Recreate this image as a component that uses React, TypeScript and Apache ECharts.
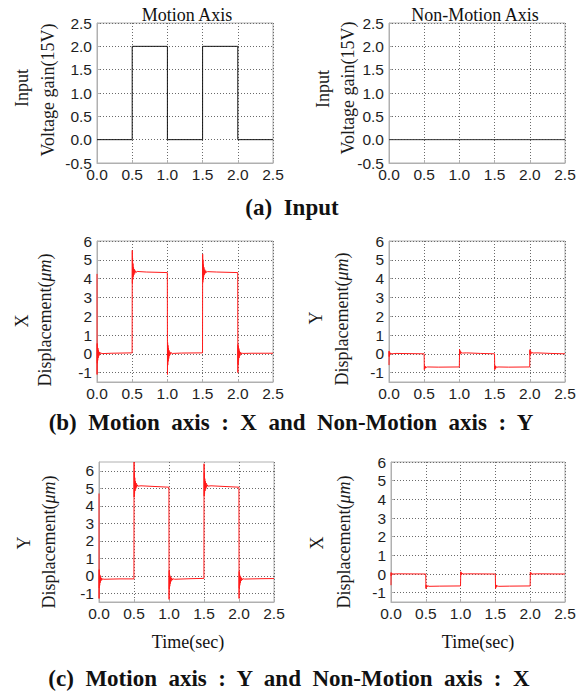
import React, { useEffect, useRef } from "react";
import * as echarts from "echarts";

// ---------- data ----------
const timeTicks = [0, 0.5, 1, 1.5, 2, 2.5];
const inputTicks = [-0.5, 0, 0.5, 1, 1.5, 2, 2.5];
const dispTicks = [-1, 0, 1, 2, 3, 4, 5, 6];

const inputMotion: [number, number][] = [
  [0, 0], [0.5, 0], [0.5, 2], [1.0, 2], [1.0, 0], [1.5, 0], [1.5, 2], [2.0, 2], [2.0, 0], [2.5, 0],
];
const inputNonMotion: [number, number][] = [[0, 0], [2.5, 0]];

// (b) motion axis X
const dispXMotionB: [number, number][] = [
  [0, 4.25], [0.001, -1.1], [0.003, 0.55], [0.005, -0.5], [0.007, 0.45], [0.01, -0.35], [0.013, 0.3], [0.017, -0.22], [0.021, 0.18], [0.026, -0.12], [0.032, 0.1], [0.04, -0.04], [0.05, 0.06], [0.07, 0.01], [0.2, 0.03], [0.499, 0.05],
  [0.5, 0.05], [0.501, 5.5], [0.503, 3.75], [0.505, 5.1], [0.508, 3.95], [0.511, 4.8], [0.515, 4.1], [0.519, 4.6], [0.524, 4.2], [0.53, 4.5], [0.537, 4.28], [0.545, 4.42], [0.555, 4.33], [0.57, 4.38], [0.7, 4.35], [0.999, 4.32],
  [1.0, 4.32], [1.001, -1.1], [1.003, 0.6], [1.005, -0.6], [1.008, 0.45], [1.011, -0.4], [1.015, 0.3], [1.019, -0.25], [1.024, 0.18], [1.03, -0.12], [1.037, 0.1], [1.045, -0.03], [1.055, 0.06], [1.07, 0.02], [1.2, 0.04], [1.499, 0.05],
  [1.5, 0.05], [1.501, 5.3], [1.503, 3.8], [1.505, 5.0], [1.508, 3.95], [1.511, 4.75], [1.515, 4.1], [1.519, 4.6], [1.524, 4.2], [1.53, 4.48], [1.537, 4.28], [1.545, 4.42], [1.555, 4.33], [1.57, 4.37], [1.7, 4.35], [1.999, 4.32],
  [2.0, 4.32], [2.001, -1.0], [2.003, 0.5], [2.005, -0.55], [2.008, 0.4], [2.011, -0.35], [2.015, 0.28], [2.019, -0.22], [2.024, 0.16], [2.03, -0.1], [2.037, 0.08], [2.045, -0.03], [2.055, 0.05], [2.07, 0.02], [2.2, 0.03], [2.5, 0.03],
];

// (b) non-motion axis Y
const dispYNonMotionB: [number, number][] = [
  [0, -0.6], [0.001, 0.15], [0.003, -0.15], [0.005, 0.1], [0.008, -0.08], [0.012, 0.06], [0.018, -0.03], [0.026, 0.04], [0.04, 0.0], [0.1, 0.02], [0.499, 0.0],
  [0.5, 0.0], [0.502, -0.85], [0.504, -0.62], [0.507, -0.8], [0.511, -0.66], [0.516, -0.76], [0.523, -0.68], [0.532, -0.73], [0.545, -0.7], [0.7, -0.71], [0.999, -0.7],
  [1.0, -0.7], [1.002, 0.25], [1.004, -0.05], [1.007, 0.18], [1.011, 0.0], [1.016, 0.12], [1.023, 0.02], [1.032, 0.08], [1.045, 0.04], [1.1, 0.05], [1.3, 0.02], [1.499, 0.0],
  [1.5, 0.0], [1.502, -0.85], [1.504, -0.62], [1.507, -0.8], [1.511, -0.66], [1.516, -0.76], [1.523, -0.68], [1.532, -0.73], [1.545, -0.7], [1.7, -0.71], [1.999, -0.7],
  [2.0, -0.7], [2.002, 0.22], [2.004, -0.05], [2.007, 0.16], [2.011, 0.0], [2.016, 0.11], [2.023, 0.02], [2.032, 0.07], [2.045, 0.04], [2.1, 0.05], [2.3, 0.02], [2.5, 0.0],
];

// (c) motion axis Y
const dispYMotionC: [number, number][] = [
  [0, 4.7], [0.001, -1.3], [0.003, 0.35], [0.005, -0.7], [0.007, 0.15], [0.01, -0.55], [0.013, 0.05], [0.017, -0.4], [0.021, -0.05], [0.026, -0.3], [0.032, -0.12], [0.04, -0.25], [0.05, -0.17], [0.07, -0.2], [0.3, -0.18], [0.499, -0.18],
  [0.5, -0.18], [0.501, 6.5], [0.503, 4.5], [0.505, 5.9], [0.508, 4.7], [0.511, 5.6], [0.515, 4.85], [0.519, 5.4], [0.524, 4.95], [0.53, 5.3], [0.537, 5.05], [0.545, 5.2], [0.555, 5.12], [0.6, 5.14], [0.8, 5.1], [0.999, 5.06],
  [1.0, 5.06], [1.001, -1.35], [1.003, 0.3], [1.005, -0.75], [1.008, 0.1], [1.011, -0.6], [1.015, 0.0], [1.019, -0.45], [1.024, -0.08], [1.03, -0.32], [1.037, -0.12], [1.045, -0.25], [1.055, -0.17], [1.08, -0.2], [1.3, -0.17], [1.499, -0.15],
  [1.5, -0.15], [1.501, 6.4], [1.503, 4.55], [1.505, 5.9], [1.508, 4.7], [1.511, 5.55], [1.515, 4.85], [1.519, 5.4], [1.524, 4.95], [1.53, 5.3], [1.537, 5.05], [1.545, 5.2], [1.555, 5.12], [1.6, 5.14], [1.8, 5.1], [1.999, 5.06],
  [2.0, 5.06], [2.001, -1.3], [2.003, 0.25], [2.005, -0.7], [2.008, 0.1], [2.011, -0.55], [2.015, 0.0], [2.019, -0.42], [2.024, -0.08], [2.03, -0.3], [2.037, -0.12], [2.045, -0.24], [2.055, -0.17], [2.08, -0.19], [2.3, -0.17], [2.5, -0.16],
];

// (c) non-motion axis X
const dispXNonMotionC: [number, number][] = [
  [0, -0.6], [0.001, 0.08], [0.003, -0.1], [0.006, 0.05], [0.01, -0.04], [0.016, 0.03], [0.025, 0.0], [0.1, 0.01], [0.499, 0.0],
  [0.5, 0.0], [0.502, -0.78], [0.505, -0.58], [0.509, -0.72], [0.514, -0.6], [0.521, -0.68], [0.53, -0.63], [0.545, -0.66], [0.7, -0.65], [0.999, -0.64],
  [1.0, -0.64], [1.002, 0.12], [1.005, -0.06], [1.009, 0.08], [1.014, -0.02], [1.021, 0.04], [1.035, 0.0], [1.1, 0.01], [1.499, 0.0],
  [1.5, 0.0], [1.502, -0.78], [1.505, -0.58], [1.509, -0.72], [1.514, -0.6], [1.521, -0.68], [1.53, -0.63], [1.545, -0.66], [1.7, -0.65], [1.999, -0.64],
  [2.0, -0.64], [2.002, 0.1], [2.005, -0.05], [2.009, 0.07], [2.014, -0.02], [2.021, 0.04], [2.035, 0.0], [2.1, 0.01], [2.5, 0.0],
];

const panelTitles = ["Motion Axis", "Non-Motion Axis"];
const captions = [
  "(a)  Input",
  "(b)  Motion  axis  :  X  and  Non-Motion  axis  :  Y",
  "(c)  Motion  axis  :  Y  and  Non-Motion  axis  :  X",
];

// ---------- styles ----------
const SANS = '"Liberation Sans", Arial, sans-serif';
const SERIF = '"Liberation Serif", "Times New Roman", serif';
const GRIDLINE = "#6a6a6a";
const BORDER = "#b0b0b0";
const RED = "#ff1a1a";
const BLACK = "#151515";

const grids = [
  { left: 97, top: 23, width: 176, height: 140 },
  { left: 389, top: 23, width: 176, height: 140 },
  { left: 97, top: 241, width: 176, height: 141 },
  { left: 389, top: 241, width: 176, height: 141 },
  { left: 99, top: 462, width: 175, height: 140 },
  { left: 391, top: 462, width: 174, height: 140 },
];

function xAxisCfg(gridIndex: number) {
  return {
    type: "value",
    gridIndex,
    min: 0,
    max: 2.5,
    interval: 0.5,
    axisLine: { show: true, onZero: false, lineStyle: { color: BORDER } },
    axisTick: { show: true, inside: true, length: 3, lineStyle: { color: BORDER } },
    axisLabel: {
      margin: 3,
      fontFamily: SANS,
      fontSize: 15.5,
      color: "#1e1e1e",
      customValues: timeTicks,
      formatter: (v: number) => v.toFixed(1),
    },
    splitLine: { show: true, lineStyle: { color: GRIDLINE, type: [1, 2], width: 1 } },
  };
}

function yAxisInput(gridIndex: number) {
  return {
    type: "value",
    gridIndex,
    min: -0.5,
    max: 2.5,
    interval: 0.5,
    axisLine: { show: true, onZero: false, lineStyle: { color: BORDER } },
    axisTick: { show: true, inside: true, length: 3, lineStyle: { color: BORDER } },
    axisLabel: {
      margin: 5,
      fontFamily: SANS,
      fontSize: 15.5,
      color: "#1e1e1e",
      customValues: inputTicks,
      formatter: (v: number) => v.toFixed(1),
    },
    splitLine: { show: true, lineStyle: { color: GRIDLINE, type: [1, 2], width: 1 } },
  };
}

function yAxisDisp(gridIndex: number, max: number) {
  return {
    type: "value",
    gridIndex,
    min: -1.5,
    max,
    minInterval: 1,
    maxInterval: 1,
    axisLine: { show: true, onZero: false, lineStyle: { color: BORDER } },
    axisTick: { show: true, inside: true, length: 3, customValues: dispTicks, lineStyle: { color: BORDER } },
    axisLabel: {
      margin: 5,
      fontFamily: SANS,
      fontSize: 15.5,
      color: "#1e1e1e",
      customValues: dispTicks,
      formatter: (v: number) => (Number.isInteger(v) ? String(v) : ""),
    },
    splitLine: { show: true, lineStyle: { color: GRIDLINE, type: [1, 2], width: 1 } },
  };
}

function vText(x: number, y: number, text: string, rich?: any) {
  return {
    type: "text",
    x,
    y,
    rotation: Math.PI / 2,
    silent: true,
    style: {
      text,
      fontFamily: SERIF,
      fontSize: 18,
      fill: "#1a1a1a",
      textAlign: "center",
      textVerticalAlign: "middle",
      align: "center",
      verticalAlign: "middle",
      rich,
    },
  };
}

function hText(x: number, y: number, text: string, size: number, bold = false) {
  return {
    type: "text",
    x,
    y,
    silent: true,
    style: {
      text,
      fontFamily: SERIF,
      fontSize: size,
      fontWeight: bold ? "bold" : "normal",
      fill: "#111",
      textAlign: "center",
      textVerticalAlign: "middle",
      align: "center",
      verticalAlign: "middle",
    },
  };
}

const muRich = { i: { fontStyle: "italic", fontFamily: SERIF, fontSize: 18, color: "#1a1a1a" } };

function series(data: [number, number][], idx: number, color: string) {
  return {
    type: "line",
    xAxisIndex: idx,
    yAxisIndex: idx,
    data,
    symbol: "none",
    showSymbol: false,
    lineStyle: { color, width: 1 },
    itemStyle: { color },
    z: 3,
  };
}

export default function App() {
  const ref = useRef<HTMLDivElement>(null);
  useEffect(() => {
    if (!ref.current) return;
    const chart = echarts.init(ref.current, undefined, { renderer: "svg" });
    chart.setOption({
      animation: false,
      backgroundColor: "#ffffff",
      grid: grids.map((g) => ({ ...g, show: true, borderColor: BORDER, borderWidth: 1, backgroundColor: "transparent" })),
      xAxis: grids.map((_, i) => xAxisCfg(i)),
      yAxis: [
        yAxisInput(0),
        yAxisInput(1),
        yAxisDisp(2, 6),
        yAxisDisp(3, 6),
        yAxisDisp(4, 6.5),
        yAxisDisp(5, 6),
      ],
      series: [
        series(inputMotion, 0, BLACK),
        series(inputNonMotion, 1, "#333"),
        series(dispXMotionB, 2, RED),
        series(dispYNonMotionB, 3, RED),
        series(dispYMotionC, 4, RED),
        series(dispXNonMotionC, 5, RED),
      ],
      graphic: [
        hText(187, 15, panelTitles[0], 18),
        hText(475, 15, panelTitles[1], 18),
        vText(22, 88, "Input"),
        vText(48, 90, "Voltage gain(15V)"),
        vText(323, 89, "Input"),
        vText(348, 88, "Voltage gain(15V)"),
        vText(22, 321, "X"),
        vText(45, 320, "Displacement({i|μm})", muRich),
        vText(316, 318, "Y"),
        vText(342, 319, "Displacement({i|μm})", muRich),
        vText(24, 543, "Y"),
        vText(49, 542, "Displacement({i|μm})", muRich),
        vText(317, 543, "X"),
        vText(344, 542, "Displacement({i|μm})", muRich),
        hText(188, 642, "Time(sec)", 18),
        hText(478, 642, "Time(sec)", 18),
        hText(292, 207, captions[0], 23, true),
        hText(291, 422, captions[1], 23, true),
        hText(289, 678, captions[2], 23, true),
      ],
    });
    return () => chart.dispose();
  }, []);
  return (
    <div
      ref={ref}
      style={{ position: "absolute", left: 0, top: 0, width: 579, height: 692, background: "#fff" }}
    />
  );
}
